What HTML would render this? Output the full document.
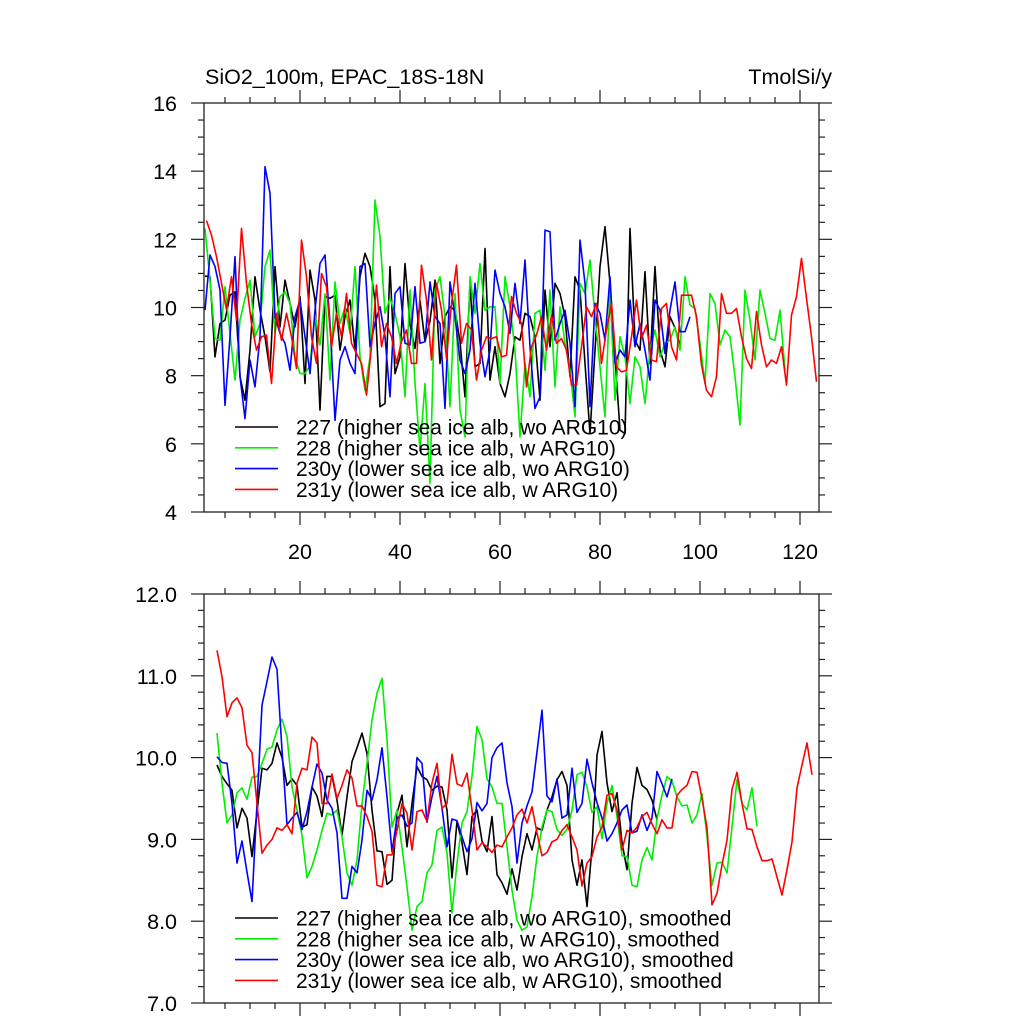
<!DOCTYPE html>
<html><head><meta charset="utf-8">
<style>
html,body{margin:0;padding:0;background:#fff;}
svg{display:block;font-family:"Liberation Sans",sans-serif;}
</style></head>
<body>
<svg id="chart" width="1024" height="1024" viewBox="0 0 1024 1024">
<text x="205" y="84" font-size="21.5">SiO2_100m, EPAC_18S-18N</text>
<text x="832" y="84" font-size="21.5" text-anchor="end">TmolSi/y</text>
<g id="top"></g>
<g id="bot"></g>
</svg>
<script>
// ---- data ----
const seriesNames = ["227 (higher sea ice alb, wo ARG10)","228 (higher sea ice alb, w ARG10)","230y (lower sea ice alb, wo ARG10)","231y (lower sea ice alb, w ARG10)"];
const seriesColors = ["#000000","#00ee00","#0000ff","#ff0000"];
const topYTicks = [4,6,8,10,12,14,16];
const botYTicks = [7.0,8.0,9.0,10.0,11.0,12.0];
const xTicks = [20,40,60,80,100,120];
const topStart = [1,1,1,1.3];
const botStart = [3.4,3.4,3.4,3.4];

const raw227 = [10.92,10.9,8.55,9.53,9.63,10.36,10.46,7.97,7.28,8.75,10.9,9.92,9.14,8.11,11.2,9.43,10.8,10.12,9.43,10.32,7.77,11.1,10.22,6.99,10.32,10.27,10.36,8.75,9.73,10.22,8.75,10.9,11.59,11.2,10.22,7.09,7.18,11.2,8.06,8.55,11.29,9.5,8.8,10.2,9.0,9.6,10.8,8.36,9.73,10.02,9.92,9.0,7.38,10.71,8.26,8.36,11.73,7.87,8.85,7.77,7.38,8.06,9.14,9.04,9.83,9.73,9.14,7.28,10.51,8.85,10.71,10.41,9.73,7.97,10.9,10.51,8.36,6.3,8.75,11.2,12.37,10.71,8.55,6.4,6.3,12.32,9.04,8.75,11.05,8.36,11.2,8.75,8.26,9.73,9.4,8.9];
const raw228 = [12.32,10.8,9.09,9.04,10.61,9.24,7.87,9.63,10.27,10.8,9.14,9.53,11.2,11.68,9.24,10.32,10.46,10.12,8.55,8.06,8.06,8.3,9.8,8.9,10.4,7.87,10.75,9.53,10.02,9.24,11.2,8.55,7.57,8.55,13.15,12.08,9.83,10.27,9.83,9.14,7.38,10.51,7.77,5.81,7.77,4.84,10.51,10.9,9.73,7.09,10.41,6.99,6.2,10.9,9.83,11.29,9.92,10.02,10.02,7.77,10.9,10.02,8.75,6.2,8.36,7.38,9.83,9.92,8.16,10.51,7.67,10.02,8.95,8.16,6.79,10.71,10.41,11.39,9.73,8.26,6.79,10.51,7.28,9.14,8.55,7.18,8.55,8.26,7.18,8.75,9.34,8.55,8.95,9.04,9.43,8.75,10.9,10.07,9.97,8.95,7.77,10.41,10.12,8.9,9.34,9.14,7.97,6.55,10.51,9.63,8.46,10.51,9.83,9.09,9.04,9.92,8.16];
const raw230 = [9.92,11.54,11.2,10.51,7.13,9.14,11.49,7.97,6.74,8.46,7.67,9.14,14.13,13.35,9.73,9.24,8.95,8.16,9.73,10.22,9.14,8.06,9.92,11.29,11.54,9.53,6.69,8.46,8.85,8.36,8.06,11.2,11.29,8.85,9.53,10.02,9.14,7.38,10.41,10.61,8.95,8.9,10.61,8.95,9.0,10.75,9.73,9.53,7.04,10.75,9.73,8.46,8.06,8.75,10.71,8.95,7.97,8.75,11.1,10.41,10.02,9.24,10.71,9.53,11.39,8.85,7.04,7.38,12.27,12.22,9.04,9.53,9.92,8.95,7.09,11.98,10.71,7.09,10.12,9.83,9.04,10.9,8.36,8.75,8.55,10.22,8.85,9.53,8.75,7.87,10.22,9.92,8.65,9.92,10.75,9.29,9.29,9.73];
const raw231 = [12.55,12.12,11.49,10.71,9.94,10.9,9.63,12.32,10.71,9.53,8.75,9.14,9.19,7.77,9.83,9.04,9.83,9.14,8.21,11.98,10.9,9.14,8.36,11.0,10.61,8.85,9.83,9.14,10.41,8.95,8.65,8.36,7.43,8.85,10.66,8.85,9.53,9.14,8.36,9.0,9.34,8.36,8.36,11.24,10.22,8.46,10.71,9.92,8.5,10.12,11.24,8.95,9.53,9.34,7.87,8.75,9.14,9.09,9.14,8.55,8.6,10.32,9.83,9.53,7.67,8.85,9.19,9.73,8.75,9.78,8.95,9.09,8.75,7.72,7.72,8.85,10.02,9.73,10.12,8.36,9.34,10.12,8.26,8.11,8.16,9.14,10.22,9.09,9.48,8.46,8.41,9.97,10.12,8.85,8.46,10.36,10.36,10.36,9.73,8.31,7.57,7.38,7.97,10.41,9.83,9.83,9.97,9.14,8.5,8.21,9.88,8.9,8.26,8.46,8.36,8.85,7.72,9.78,10.32,11.44,10.27,9.14,7.82];

const sm227 = [9.91,9.77,9.68,9.6,9.14,9.38,9.26,8.79,9.34,9.87,9.85,9.93,10.18,10.0,9.66,9.74,9.66,9.15,9.18,9.64,9.53,9.28,9.77,9.77,9.48,9.05,9.52,9.95,10.12,10.3,10.05,9.36,8.86,8.85,8.45,8.5,9.32,9.54,8.91,9.44,9.89,9.77,9.73,9.6,9.65,9.64,9.36,8.53,9.22,8.96,8.57,9.28,9.36,8.98,8.85,9.28,8.57,8.47,8.33,8.64,8.38,8.79,9.07,8.87,9.14,9.11,9.36,9.52,9.73,9.83,9.66,8.75,8.44,8.75,8.18,8.9,10.03,10.32,9.69,9.34,9.57,8.96,8.63,9.44,9.88,9.66,9.61,9.48,9.24];
const sm228 = [10.3,9.69,9.2,9.3,9.57,9.63,9.49,9.76,9.77,9.93,10.1,10.13,10.34,10.47,10.26,9.64,9.36,9.05,8.53,8.67,8.87,9.11,9.32,9.3,9.36,9.03,8.59,8.44,8.75,9.44,9.93,10.46,10.79,10.97,10.22,9.15,9.36,8.9,8.42,7.89,8.18,8.24,8.59,8.69,9.11,9.15,8.83,8.1,8.71,9.2,9.34,9.77,10.38,10.22,9.74,9.64,9.44,9.44,8.91,8.38,8.01,7.89,7.93,8.3,8.79,9.15,9.36,9.34,9.12,9.05,9.12,9.36,9.79,9.82,9.64,9.33,9.4,9.01,9.44,9.66,9.28,8.8,8.79,8.44,8.42,8.75,8.9,8.75,9.25,9.54,9.77,9.71,9.52,9.41,9.42,9.2,9.3,9.56,9.03,8.44,8.71,8.72,8.59,9.15,9.73,9.44,9.36,9.63,9.16];
const sm230 = [10.01,9.94,9.93,9.44,8.71,8.98,8.6,8.24,9.44,10.64,10.93,11.23,11.08,10.09,9.18,9.26,9.33,9.12,9.34,9.64,9.92,9.81,9.48,9.38,9.08,8.28,8.28,8.67,8.59,8.99,9.6,9.48,9.73,10.12,9.52,8.85,9.26,9.3,9.16,9.2,10.0,9.93,9.21,9.52,9.77,9.38,8.91,9.25,9.23,9.03,8.85,9.01,9.45,9.35,9.44,10.0,10.12,10.18,9.69,9.4,8.71,9.2,9.41,9.58,10.07,10.58,9.53,9.46,9.74,9.26,9.3,9.87,9.33,9.44,9.98,9.69,9.45,9.26,8.98,9.07,9.2,9.36,9.42,9.08,9.1,9.3,9.11,9.26,9.83,9.68,9.52,9.74];
const sm231 = [11.31,10.99,10.5,10.67,10.73,10.61,10.15,10.06,9.44,8.83,8.93,9.0,9.14,9.11,9.18,9.07,9.69,9.87,9.85,10.25,10.18,9.44,9.44,9.8,9.5,9.66,9.85,9.75,9.41,9.41,9.28,9.1,8.44,8.42,8.81,8.81,9.11,9.44,9.32,8.87,9.34,9.36,9.22,9.69,9.93,9.38,9.44,10.04,9.68,9.65,9.81,9.36,8.87,8.96,8.91,8.84,8.93,8.91,9.03,9.14,9.3,9.37,9.2,9.4,9.08,8.8,8.84,8.97,9.0,9.11,9.18,9.03,8.87,8.43,8.71,8.79,9.03,9.15,9.54,9.56,9.36,8.87,9.11,9.08,9.15,9.28,9.33,9.19,9.07,9.24,9.14,9.14,9.54,9.61,9.66,9.83,9.82,9.5,9.14,8.2,8.34,8.69,8.99,9.61,9.82,9.44,9.13,9.12,8.91,8.74,8.74,8.76,8.54,8.32,8.63,8.97,9.63,9.91,10.18,9.79];

const topSeries = [raw227, raw228, raw230, raw231];
const botSeries = [sm227, sm228, sm230, sm231];

// ---- drawing ----
const NS = "http://www.w3.org/2000/svg";
const X0 = 204, X1 = 819;
const xScale = v => 200 + 5 * v;
function mk(tag, attrs, parent){ const e=document.createElementNS(NS,tag); for(const k in attrs) e.setAttribute(k,attrs[k]); parent.appendChild(e); return e; }

function panel(g, yTop, yBot, yMin, yMax, yTicks, yMinorStep, yFmt, series, starts, xLabels, legendY, suffix, prefix){
  const yScale = v => yBot - (v - yMin) / (yMax - yMin) * (yBot - yTop);
  series.forEach((arr, si) => {
    const pts = arr.map((v,i) => xScale(starts[si]+i).toFixed(1)+","+yScale(v).toFixed(1)).join(" ");
    const pl = mk("polyline",{points:pts,fill:"none",stroke:seriesColors[si],"stroke-width":1.6,"stroke-linejoin":"round"},g);
    
    
  });
  const fr = mk("rect",{x:X0,y:yTop,width:X1-X0,height:yBot-yTop,fill:"none",stroke:"#222","stroke-width":1.3},g);
  
  
  const n = Math.round((yMax-yMin)/yMinorStep);
  for(let i=0;i<=n;i++){
    const v = yMin + i*yMinorStep, y = yScale(v);
    const major = yTicks.some(t => Math.abs(t-v) < 1e-6);
    const L = major ? 13 : 6;
    mk("line",{x1:X0-L,x2:X0,y1:y,y2:y,stroke:"#222","stroke-width":1.2},g);
    mk("line",{x1:X1,x2:X1+L,y1:y,y2:y,stroke:"#222","stroke-width":1.2},g);
  }
  yTicks.forEach(t => {
    const tx = mk("text",{x:X0-27,y:yScale(t)+8,"font-size":21.5,"text-anchor":"end"},g);
    tx.textContent = yFmt(t);
    
    
  });
  for(let v=5; v<=120; v+=5){
    const x = xScale(v), major = v%20===0, L = major?13:6;
    mk("line",{x1:x,x2:x,y1:yBot,y2:yBot+L,stroke:"#222","stroke-width":1.2},g);
    mk("line",{x1:x,x2:x,y1:yTop-L,y2:yTop,stroke:"#222","stroke-width":1.2},g);
  }
  if(xLabels){
    xTicks.forEach(t => {
      const tx = mk("text",{x:xScale(t),y:yBot+47,"font-size":21.5,"text-anchor":"middle"},g);
      tx.textContent = t;
      
      
    });
  }
  seriesNames.forEach((nm, i) => {
    const y = legendY + i*20.8;
    const ln = mk("line",{x1:235,x2:278,y1:y,y2:y,stroke:seriesColors[i],"stroke-width":1.6},g);
    
    
    const tx = mk("text",{x:296,y:y+7.5,"font-size":21},g);
    tx.textContent = nm + suffix;
    
    
  });
}
panel(document.getElementById("top"), 103, 512, 4, 16, topYTicks, 0.5, t=>String(t), topSeries, topStart, true, 427, "", "top");
panel(document.getElementById("bot"), 594, 1003, 7, 12, botYTicks, 0.2, t=>t.toFixed(1), botSeries, botStart, false, 918, ", smoothed", "bottom");
</script>
</body></html>
